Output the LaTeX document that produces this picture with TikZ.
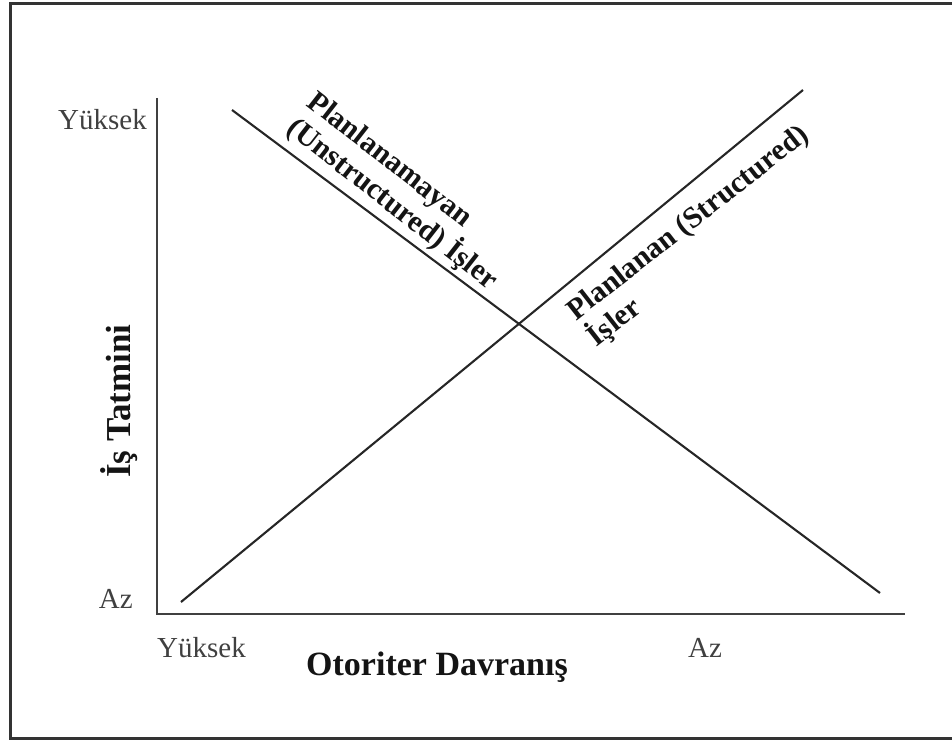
\documentclass[tikz,border=0pt]{standalone}
\usepackage{fontspec}
\setmainfont{Liberation Serif}
\begin{document}
\begin{tikzpicture}[x=1pt,y=-1pt,
  frame/.style={line width=3pt,draw=black!80},
  axis/.style={line width=2.8pt,draw=black!75},
  trend/.style={line width=2.1pt,draw=black!85},
  ticklabel/.style={inner sep=0pt,text=black!75,font=\fontsize{29}{34}\selectfont},
  axislabel/.style={inner sep=0pt,text=black!92,font=\bfseries\fontsize{34}{40}\selectfont},
  curvelabel/.style={inner sep=0pt,align=left,text=black!92,font=\bfseries\fontsize{30}{32}\selectfont}]
\useasboundingbox (0,0) rectangle (952,743);
\clip (0,0) rectangle (952,743);

% outer frame (runs off the right edge)
\draw[frame] (960,4) -- (10,4) -- (10,738) -- (960,738);

% axes
\coordinate (ytop) at (157,98);
\coordinate (origin) at (157,614);
\coordinate (xend) at (905,614);
\draw[axis] (ytop) -- (origin) -- (xend);

% the two trend lines
\coordinate (u1) at (232,110);
\coordinate (u2) at (880,593);
\coordinate (s1) at (181,602);
\coordinate (s2) at (803,90);
\draw[trend] (u1) -- (u2);
\draw[trend] (s1) -- (s2);

% tick labels
\node[ticklabel,anchor=base east] (yhi) at (147,130) {Yüksek};
\node[ticklabel,anchor=base east] (ylo) at (133,608) {Az};
\node[ticklabel,anchor=base west] (xhi) at (157,657) {Yüksek};
\node[ticklabel,anchor=base west] (xlo) at (688,657) {Az};

% axis titles
\node[axislabel,anchor=base west] (xtitle) at (306,675) {Otoriter Davranış};
\node[axislabel,anchor=base west,rotate=90,font=\bfseries\fontsize{35}{40}\selectfont] (ytitle) at (130,478) {İş Tatmini};

% curve labels
\node[curvelabel,rotate=-38] (ulabel) at (402,192) {Planlanamayan\\(Unstructured) İşler};
\node[curvelabel,rotate=38] (slabel) at (699,237) {Planlanan (Structured)\\İşler};
\end{tikzpicture}
\end{document}
